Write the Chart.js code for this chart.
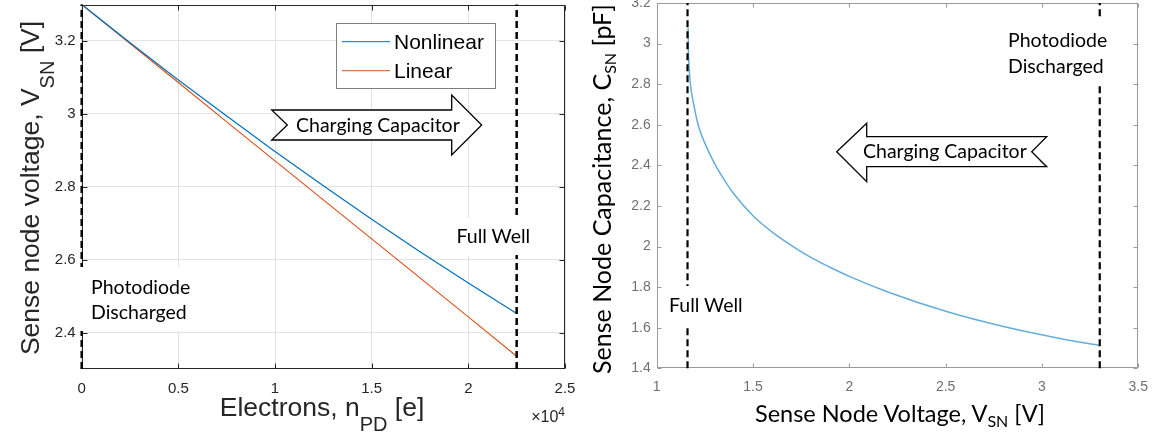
<!DOCTYPE html>
<html>
<head>
<meta charset="utf-8">
<script src="https://cdn.jsdelivr.net/npm/chart.js@4.4.1/dist/chart.umd.min.js"></script>
<style>
    html, body { margin: 0; padding: 0; background: #fff; }
    #page { position: relative; width: 1158px; height: 442px; overflow: hidden; background: #fff; }
    canvas { position: absolute; }
    .mt { position: absolute; font-family: "Liberation Sans", Arial, sans-serif; font-size: 26.5px; line-height: 26px; color: #262626; white-space: nowrap; }
    .lt { position: absolute; font-family: Lato, sans-serif; font-size: 24px; line-height: 24px; color: #000; white-space: nowrap; }
    .msub { font-size: 20px; position: relative; top: 15px; }
    .lsub { font-size: 16px; position: relative; top: 5px; }
    svg text { font-family: Lato, sans-serif; font-size: 19.5px; fill: #000; }
    svg text.leg { font-family: "Liberation Sans", Arial, sans-serif; font-size: 21px; }
</style>
</head>
<body>
<div id="page">
    <canvas id="left-chart" width="590" height="458" style="left:0;top:-16px"></canvas>
    <canvas id="right-chart" width="568" height="459" style="left:590px;top:-17px"></canvas>

    <svg width="1158" height="442" style="position:absolute;left:0;top:0">
        <!-- left panel -->
        <rect x="336.5" y="23.5" width="159" height="65" fill="#fff" stroke="#7f7f7f" stroke-width="1"/>
        <line x1="342" y1="41.7" x2="390" y2="41.7" stroke="#0072BD" stroke-width="1"/>
        <line x1="342" y1="70.7" x2="390" y2="70.7" stroke="#D95319" stroke-width="1"/>
        <text class="leg" x="394" y="48.5">Nonlinear</text>
        <text class="leg" x="394" y="78">Linear</text>

        <polygon points="271.7,110 451.7,110 451.7,95 481.7,125 451.7,155 451.7,140 271.7,140 287.3,125"
                 fill="#fff" stroke="#000" stroke-width="1.3"/>
        <text x="296" y="132">Charging Capacitor</text>

        <rect x="78" y="267" width="120" height="64" fill="#fff"/>
        <text x="91" y="294">Photodiode</text>
        <text x="91" y="319">Discharged</text>

        <rect x="452" y="218" width="82" height="37" fill="#fff"/>
        <text x="456.5" y="242.5">Full Well</text>

        <!-- right panel -->
        <polygon points="836.7,151.7 866.7,123.3 866.7,136.7 1046.7,136.7 1031.7,151.7 1046.7,166.7 866.7,166.7 866.7,181.7"
                 fill="#fff" stroke="#000" stroke-width="1.3"/>
        <text x="863" y="158">Charging Capacitor</text>

        <rect x="664" y="286" width="85" height="39" fill="#fff"/>
        <text x="669" y="311.5">Full Well</text>

        <rect x="1003" y="18" width="110" height="65" fill="#fff"/>
        <text x="1008" y="46.5">Photodiode</text>
        <text x="1008" y="72.5">Discharged</text>
    </svg>

    <div class="mt" style="left:31px;top:188px;transform:translate(-50%,-50%) rotate(-90deg)">Sense node voltage, V<span class="msub">SN</span> [V]</div>
    <div class="mt" style="left:322px;top:394px;transform:translateX(-50%)">Electrons, n<span class="msub">PD</span> [e]</div>
    <div class="mt" style="left:565px;top:409px;transform:translateX(-100%);font-size:16px;line-height:16px">&times;10<span style="font-size:12px;position:relative;top:-6px">4</span></div>

    <div class="lt" style="left:603px;top:189px;font-size:25px;transform:translate(-50%,-50%) rotate(-90deg)">Sense Node Capacitance, C<span class="lsub">SN</span> [pF]</div>
    <div class="lt" style="left:900px;top:401px;font-size:23.5px;transform:translateX(-50%)">Sense Node Voltage, V<span class="lsub">SN</span> [V]</div>
</div>

<script>
// left panel: sense node voltage vs collected electrons
const electrons = [0, 2500, 5000, 7500, 10000, 12500, 15000, 17500, 20000, 22500];
const nonlinearV = [3.300, 3.195, 3.093, 2.994, 2.897, 2.803, 2.711, 2.622, 2.536, 2.452];
const linearV = [3.300, 3.193, 3.086, 2.978, 2.871, 2.764, 2.657, 2.550, 2.443, 2.335];
const fullWellElectrons = 22500;
const leftXTicks = [0, 5000, 10000, 15000, 20000, 25000];
const leftYTicks = [2.4, 2.6, 2.8, 3.0, 3.2];
const leftXRange = [0, 25000];
const leftYRange = [2.3, 3.3];

// right panel: sense node capacitance vs sense node voltage
const senseV = [1.163, 1.165, 1.168, 1.175, 1.192, 1.218, 1.259, 1.3, 1.345, 1.4, 1.5, 1.6, 1.7, 1.8, 1.9, 2.0, 2.2, 2.5, 2.8, 3.1, 3.3];
const senseC = [3.077, 2.95, 2.889, 2.80, 2.70, 2.59, 2.49, 2.41, 2.337, 2.26, 2.152, 2.071, 2.005, 1.947, 1.898, 1.853, 1.776, 1.681, 1.606, 1.546, 1.512];
const fullWellV = 1.16;
const dischargedV = 3.3;
const rightXTicks = [1, 1.5, 2, 2.5, 3, 3.5];
const rightYTicks = [1.4, 1.6, 1.8, 2.0, 2.2, 2.4, 2.6, 2.8, 3.0, 3.2];
const rightXRange = [1, 3.5];
const rightYRange = [1.4, 3.2];


// box around the plot area with matlab style ticks pointing inward
const boxTicks = {
    id: 'boxTicks',
    beforeDatasetsDraw(chart, args, opts) {
        const {ctx, chartArea: a, scales} = chart;
        const l = Math.round(a.left) + 0.5, r = Math.round(a.right) - 0.5;
        const t = Math.round(a.top) + 0.5, b = Math.round(a.bottom) - 0.5;
        ctx.save();
        ctx.strokeStyle = opts.color;
        ctx.lineWidth = 1;
        ctx.beginPath();
        scales.x.ticks.forEach(tk => {
            const px = Math.round(scales.x.getPixelForValue(tk.value)) + 0.5;
            ctx.moveTo(px, b); ctx.lineTo(px, b - opts.len);
            ctx.moveTo(px, t); ctx.lineTo(px, t + opts.len);
        });
        scales.y.ticks.forEach(tk => {
            const py = Math.round(scales.y.getPixelForValue(tk.value)) + 0.5;
            ctx.moveTo(l, py); ctx.lineTo(l + opts.len, py);
            ctx.moveTo(r, py); ctx.lineTo(r - opts.len, py);
        });
        ctx.stroke();
        ctx.strokeStyle = opts.frame || opts.color;
        ctx.strokeRect(l, t, r - l, b - t);
        ctx.restore();
    }
};

function points(xs, ys) {
    return xs.map((v, i) => ({x: v, y: ys[i]}));
}

function fmt(v) {
    return String(+v.toFixed(2));
}

function dashed(x, range, width) {
    return {
        data: [{x: x, y: range[0]}, {x: x, y: range[1]}],
        showLine: true,
        borderColor: '#000',
        borderWidth: width,
        borderDash: [7, 4],
        pointRadius: 0,
        clip: false
    };
}


function left_chart() {
    const canvas = document.getElementById('left-chart');
    return new Chart(canvas, {
        type: 'scatter',
        data: {
            datasets: [
                dashed(fullWellElectrons, leftYRange, 2.5),
                dashed(0, leftYRange, 2.5),
                {
                    label: 'Nonlinear',
                    data: points(electrons, nonlinearV),
                    showLine: true,
                    borderColor: '#0072BD',
                    borderWidth: 1.2,
                    pointRadius: 0
                },
                {
                    label: 'Linear',
                    data: points(electrons, linearV),
                    showLine: true,
                    borderColor: '#D95319',
                    borderWidth: 1.2,
                    pointRadius: 0
                }
            ]
        },
        options: {
            responsive: false,
            animation: false,
            events: [],
            layout: {padding: {top: 20.5, right: 25, left: 0, bottom: 0}},
            plugins: {
                legend: {display: false},
                tooltip: {enabled: false},
                boxTicks: {color: '#262626', len: 5}
            },
            scales: {
                x: {
                    type: 'linear',
                    min: leftXRange[0],
                    max: leftXRange[1],
                    afterBuildTicks: s => { s.ticks = leftXTicks.map(v => ({value: v})); },
                    afterFit: s => { s.height = 73; },
                    grid: {color: '#e3e3e3', drawTicks: false},
                    border: {display: false},
                    ticks: {
                        padding: 11,
                        color: '#262626',
                        font: {family: '"Liberation Sans", Arial, sans-serif', size: 15},
                        maxRotation: 0,
                        callback: v => fmt(v / 10000)
                    }
                },
                y: {
                    type: 'linear',
                    min: leftYRange[0],
                    max: leftYRange[1],
                    afterBuildTicks: s => { s.ticks = leftYTicks.map(v => ({value: v})); },
                    afterFit: s => { s.width = 81.7; },
                    grid: {color: '#e3e3e3', drawTicks: false},
                    border: {display: false},
                    ticks: {
                        padding: 6,
                        color: '#262626',
                        font: {family: '"Liberation Sans", Arial, sans-serif', size: 15},
                        callback: v => fmt(v)
                    }
                }
            }
        },
        plugins: [boxTicks]
    });
}


function right_chart() {
    const canvas = document.getElementById('right-chart');
    return new Chart(canvas, {
        type: 'scatter',
        data: {
            datasets: [
                dashed(fullWellV, rightYRange, 2.2),
                dashed(dischargedV, rightYRange, 2.2),
                {
                    label: 'C_SN',
                    data: points(senseV, senseC),
                    showLine: true,
                    borderColor: '#67addb',
                    borderWidth: 1.5,
                    pointRadius: 0,
                    cubicInterpolationMode: 'monotone'
                }
            ]
        },
        options: {
            responsive: false,
            animation: false,
            events: [],
            layout: {padding: {top: 20, right: 18, left: 0, bottom: 0}},
            plugins: {
                legend: {display: false},
                tooltip: {enabled: false},
                boxTicks: {color: '#999', frame: '#9a9a9a', len: 4}
            },
            scales: {
                x: {
                    type: 'linear',
                    min: rightXRange[0],
                    max: rightXRange[1],
                    afterBuildTicks: s => { s.ticks = rightXTicks.map(v => ({value: v})); },
                    afterFit: s => { s.height = 73.7; },
                    grid: {display: false, drawTicks: false},
                    border: {display: false},
                    ticks: {
                        padding: 10,
                        color: '#707070',
                        font: {family: '"Liberation Sans", Arial, sans-serif', size: 14},
                        maxRotation: 0,
                        callback: v => fmt(v)
                    }
                },
                y: {
                    type: 'linear',
                    min: rightYRange[0],
                    max: rightYRange[1],
                    afterBuildTicks: s => { s.ticks = rightYTicks.map(v => ({value: v})); },
                    afterFit: s => { s.width = 66.7; },
                    grid: {display: false, drawTicks: false},
                    border: {display: false},
                    ticks: {
                        padding: 6,
                        color: '#707070',
                        font: {family: '"Liberation Sans", Arial, sans-serif', size: 14},
                        callback: v => fmt(v)
                    }
                }
            }
        },
        plugins: [boxTicks]
    });
}


left_chart();
right_chart();
</script>
</body>
</html>
